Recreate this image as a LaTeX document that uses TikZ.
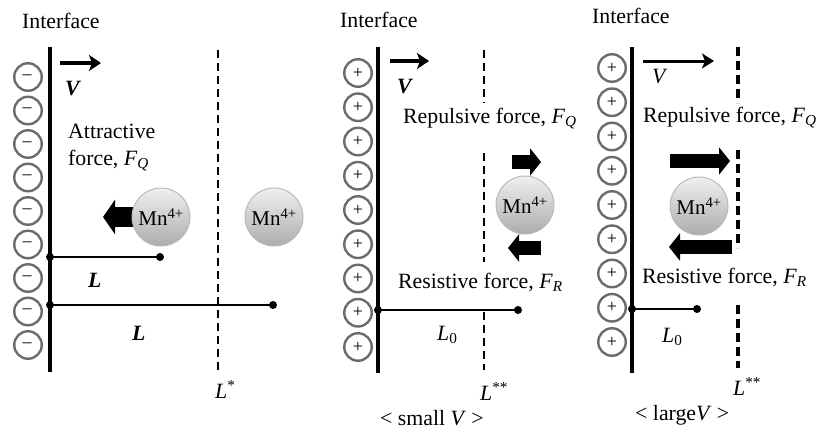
\documentclass[tikz,border=0pt]{standalone}
\usepackage{fontspec}
\setmainfont{Liberation Serif}
\usetikzlibrary{arrows.meta}
\begin{document}
\begin{tikzpicture}[x=1pt,y=-1pt,
  lbl/.style={inner sep=0pt, anchor=base west, font=\fontsize{21.8}{24}\selectfont},
  ion/.style={circle, draw=black!58, line width=2.4pt, minimum size=27.5pt, inner sep=0pt, font=\fontsize{18}{18}\selectfont},
  iface/.style={line width=3.5pt},
  dline/.style={line width=2.5pt, dash pattern=on 8pt off 5pt},
  dlinethick/.style={line width=3.8pt, dash pattern=on 9pt off 5pt},
  lline/.style={line width=2.6pt},
  enddot/.style={circle, fill=black, inner sep=0pt, minimum size=8pt},
  mn/.style={circle, minimum size=58pt, inner sep=0pt, draw=gray!55, line width=1pt,
    top color=gray!12, bottom color=gray!65, font=\fontsize{21}{21}\selectfont},
  varrow/.style={line width=4pt, -{Stealth[length=12pt,width=16pt,inset=3pt]}},
  varrowthin/.style={line width=3pt, -{Stealth[length=12pt,width=15pt,inset=3pt]}},
  bigblock/.style={line width=20pt, -{Triangle[length=12pt,width=34pt]}},
  smallblock/.style={line width=14pt, -{Triangle[length=11pt,width=27pt]}}
]
\useasboundingbox (0,0) rectangle (827,434);

% ================= Panel 1 =================
\foreach \i in {0,...,8} {
  \node[ion] (na\i) at (28,{77+33.5*\i}) {\raisebox{-1pt}{\kern-2pt–}};
}
\coordinate (ia1) at (50,47);
\coordinate (ia2) at (50,372);
\draw[iface] (ia1) -- (ia2);
\coordinate (da1) at (218,50);
\coordinate (da2) at (218,370);
\draw[dline] (da1) -- (da2);
\coordinate (va1) at (60,63);
\coordinate (va2) at (101,63);
\draw[varrow] (va1) -- (va2);

\coordinate (ba1) at (140,217);
\coordinate (ba2) at (103,217);
\draw[bigblock] (ba1) -- (ba2);
\node[mn] (mnA) at (161,217) {Mn\textsuperscript{4+}};
\node[mn] (mnB) at (274,217) {Mn\textsuperscript{4+}};

\node[enddot] (l1a) at (50,257) {};
\node[enddot] (l1b) at (160,257) {};
\draw[lline] (l1a.center) -- (l1b.center);
\node[enddot] (l2a) at (50,305) {};
\node[enddot] (l2b) at (273,305) {};
\draw[lline] (l2a.center) -- (l2b.center);

\node[lbl] (if1) at (22,28) {Interface};
\node[lbl] (v1) at (65,95) {\textbf{\textit{V}}};
\node[lbl] (att1) at (68,138) {Attractive};
\node[lbl] (att2) at (68,165) {force, \textit{F}\textsubscript{\textit{Q}}};
\node[lbl] (L1) at (88,287) {\textbf{\textit{L}}};
\node[lbl] (L2) at (132,340) {\textbf{\textit{L}}};
\node[lbl] (Ls) at (215,398) {\textit{L}\textsuperscript{*}};

% ================= Panel 2 =================
\foreach \i in {0,...,8} {
  \node[ion] (nb\i) at (358,{73+34.25*\i}) {+};
}
\coordinate (ib1) at (378,47);
\coordinate (ib2) at (378,373);
\draw[iface] (ib1) -- (ib2);
\coordinate (db1) at (484,50);
\coordinate (db2) at (484,103);
\coordinate (db3) at (484,153);
\coordinate (db4) at (484,262);
\coordinate (db5) at (484,312);
\coordinate (db6) at (484,370);
\draw[dline] (db1) -- (db2);
\draw[dline] (db3) -- (db4);
\draw[dline] (db5) -- (db6);
\coordinate (vb1) at (390,61);
\coordinate (vb2) at (429,61);
\draw[varrow] (vb1) -- (vb2);

\coordinate (rb1) at (512,162);
\coordinate (rb2) at (541,162);
\draw[smallblock] (rb1) -- (rb2);
\coordinate (lb1) at (541,248);
\coordinate (lb2) at (508,248);
\draw[smallblock] (lb1) -- (lb2);
\node[mn] (mnC) at (525,205) {Mn\textsuperscript{4+}};

\node[enddot] (l3a) at (378,310) {};
\node[enddot] (l3b) at (518,310) {};
\draw[lline] (l3a.center) -- (l3b.center);

\node[lbl] (if2) at (340,27) {Interface};
\node[lbl] (v2) at (397,93) {\textbf{\textit{V}}};
\node[lbl] (rep2) at (403,123) {Repulsive force, \textit{F}\textsubscript{\textit{Q}}};
\node[lbl] (res2) at (398,288) {Resistive force, \textit{F}\textsubscript{\textit{R}}};
\node[lbl] (L02) at (437,340) {\textit{L}\textsubscript{0}};
\node[lbl] (Lss2) at (480,400) {\textit{L}\textsuperscript{**}};
\node[lbl] (sv) at (380,425) {< small \textit{V} >};

% ================= Panel 3 =================
\foreach \i in {0,...,8} {
  \node[ion] (nc\i) at (612,{68+34.25*\i}) {+};
}
\coordinate (ic1) at (632,47);
\coordinate (ic2) at (632,373);
\draw[iface] (ic1) -- (ic2);
\coordinate (dc1) at (738,47);
\coordinate (dc2) at (738,103);
\coordinate (dc3) at (738,150);
\coordinate (dc4) at (738,248);
\coordinate (dc5) at (738,305);
\coordinate (dc6) at (738,368);
\draw[dlinethick] (dc1) -- (dc2);
\draw[dlinethick] (dc3) -- (dc4);
\draw[dlinethick] (dc5) -- (dc6);
\coordinate (vc1) at (643,61);
\coordinate (vc2) at (714,61);
\draw[varrowthin] (vc1) -- (vc2);

\coordinate (rc1) at (670,161);
\coordinate (rc2) at (730,161);
\draw[smallblock] (rc1) -- (rc2);
\coordinate (lc1) at (732,247);
\coordinate (lc2) at (669,247);
\draw[smallblock] (lc1) -- (lc2);
\node[mn] (mnD) at (699,206) {Mn\textsuperscript{4+}};

\node[enddot] (l4a) at (632,309) {};
\node[enddot] (l4b) at (697,309) {};
\draw[lline] (l4a.center) -- (l4b.center);

\node[lbl] (if3) at (592,23) {Interface};
\node[lbl] (v3) at (652,83) {\textit{V}};
\node[lbl] (rep3) at (643,122) {Repulsive force, \textit{F}\textsubscript{\textit{Q}}};
\node[lbl] (res3) at (642,283) {Resistive force, \textit{F}\textsubscript{\textit{R}}};
\node[lbl] (L03) at (662,342) {\textit{L}\textsubscript{0}};
\node[lbl] (Lss3) at (733,395) {\textit{L}\textsuperscript{**}};
\node[lbl] (lv) at (635,420) {< large\textit{V} >};
\end{tikzpicture}
\end{document}
